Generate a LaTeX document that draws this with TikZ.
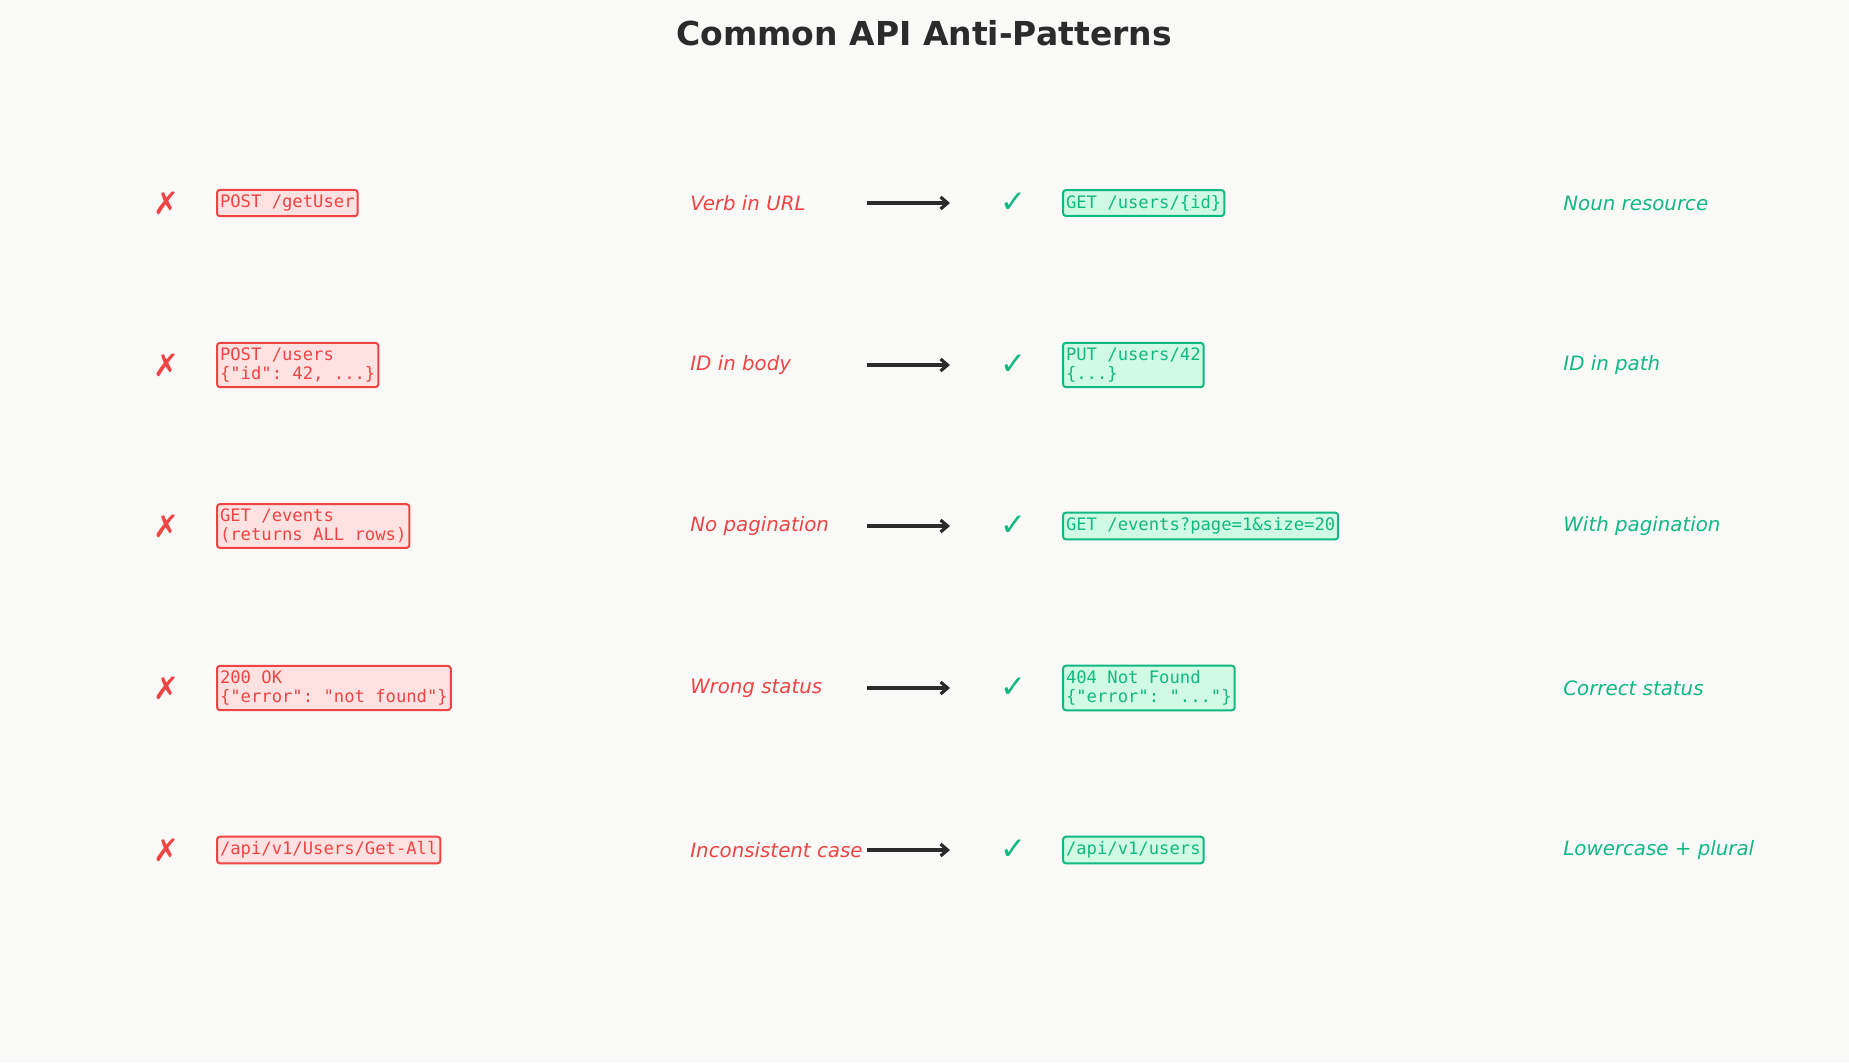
\documentclass[tikz,border=0pt]{standalone}
\usepackage{fontspec}
\setmainfont{DejaVu Sans}
\setsansfont{DejaVu Sans}
\setmonofont{DejaVu Sans Mono}
\usetikzlibrary{positioning, arrows.meta}
\definecolor{badred}{HTML}{EF4444}
\definecolor{badfill}{HTML}{FEE2E2}
\definecolor{goodgreen}{HTML}{10B981}
\definecolor{goodfill}{HTML}{D1FAE5}
\definecolor{ink}{HTML}{2B2B2B}
\definecolor{paper}{HTML}{F9F9F8}

\begin{document}
\begin{tikzpicture}[
    x=0.5pt, y=-0.5pt,
    every node/.style={font=\fontsize{9.5}{11}\selectfont},
    code/.style={draw, line width=1pt, rounded corners=1.5pt, inner xsep=1.5pt, inner ysep=2.5pt,
        align=left, anchor=west, font=\fontsize{8.6}{9.4}\selectfont\ttfamily},
    badbox/.style={code, draw=badred, fill=badfill, text=badred},
    goodbox/.style={code, draw=goodgreen, fill=goodfill, text=goodgreen},
    sign/.style={font=\fontsize{15.5}{15.5}\selectfont},
    note/.style={anchor=west, inner sep=0pt, font=\fontsize{9.9}{11}\selectfont\itshape},
    >={Straight Barb[length=3.5pt, width=6pt, line width=1.6pt]}
]
    \fill[paper] (0,0) rectangle (1849,1062);
    \node[font=\fontsize{16.5}{18}\selectfont\bfseries, text=ink] (title) at (924,33)
        {Common API Anti-Patterns};

    \foreach \i/\yy/\bad/\why/\good/\fix in {
        1/203/{POST /getUser}/{Verb in URL}/{GET /users/\{id\}}/{Noun resource},
        2/365/{POST /users\\\{"id": 42, ...\}}/{ID in body}/{PUT /users/42\\\{...\}}/{ID in path},
        3/526/{GET /events\\(returns ALL rows)}/{No pagination}/{GET /events?page=1\&size=20}/{With pagination},
        4/688/{200 OK\\\{"error": "not found"\}}/{Wrong status}/{404 Not Found\\\{"error": "..."\}}/{Correct status},
        5/850/{/api/v1/Users/Get-All}/{Inconsistent case}/{/api/v1/users}/{Lowercase + plural}
    }{
        \node[sign, text=badred] (x\i) at (166,\yy) {✗};
        \node[badbox] (bad\i) at (216,\yy) {\bad};
        \node[note, text=badred] (why\i) at (690,\yy) {\why};
        \coordinate (a\i) at (867,\yy);
        \coordinate (b\i) at (950,\yy);
        \draw[->, ink, line width=2pt] (a\i) -- (b\i);
        \node[sign, text=goodgreen] (ok\i) at (1013,\yy) {✓};
        \node[goodbox] (good\i) at (1062,\yy) {\good};
        \node[note, text=goodgreen] (fix\i) at (1563,\yy) {\fix};
    }
\end{tikzpicture}
\end{document}
